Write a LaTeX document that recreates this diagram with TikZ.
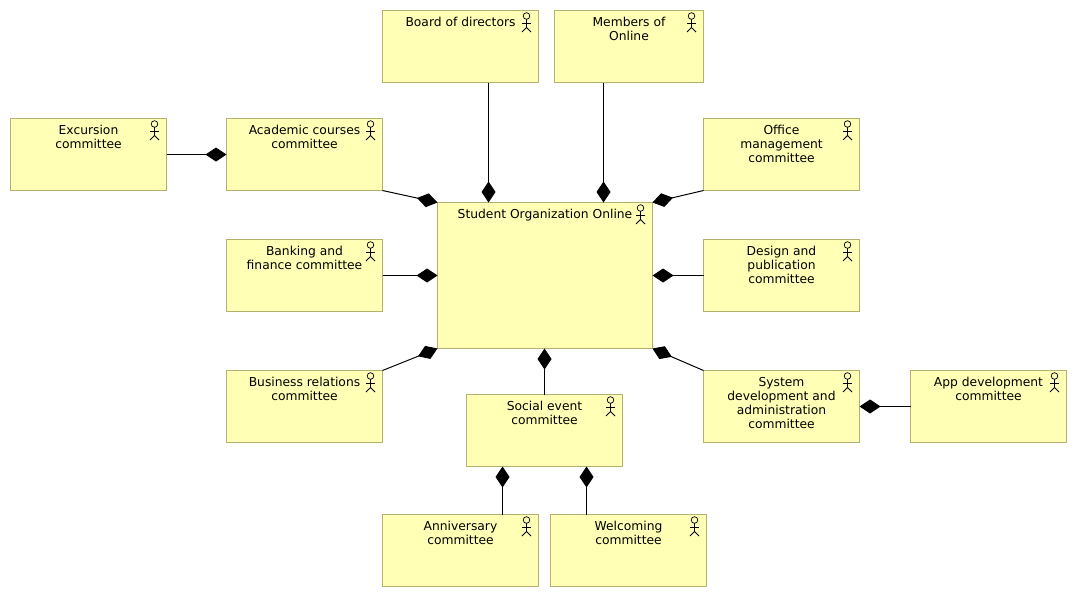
\documentclass[tikz,border=0pt]{standalone}
\usepackage{fontspec}
\setmainfont{DejaVu Sans}
\usetikzlibrary{arrows.meta}
\definecolor{boxfill}{HTML}{FFFFB5}
\definecolor{boxline}{HTML}{B2B26E}
\tikzset{
  x=1pt,y=-1pt,
  elembox/.style={draw=boxline,fill=boxfill,line width=1pt,rectangle,inner sep=0pt,outer sep=0pt,anchor=north west},
  elemtext/.style={anchor=north,align=center,inner sep=0pt,font=\fontsize{12.3pt}{14pt}\selectfont},
  actor/.style={draw=black,line width=0.75pt},
  comp/.style={draw=black,line width=1pt,-{Diamond[length=21pt,width=14pt,sep=0pt]}}
}
\newcommand{\elem}[6]{%
  \pgfmathsetmacro{\boxw}{#4-#2}\pgfmathsetmacro{\boxh}{#5-#3}%
  \node[elembox,minimum width=\boxw pt,minimum height=\boxh pt] (#1) at (#2+0.5,#3+0.5) {};
  \node[elemtext] (#1t) at ([yshift=-6.2pt]#1.north) {#6};
  \draw[actor] ([xshift=-12pt,yshift=-5.5pt]#1.north east) circle (3.3pt);
  \draw[actor] ([xshift=-12pt,yshift=-8.8pt]#1.north east) -- ([xshift=-12pt,yshift=-17pt]#1.north east);
  \draw[actor] ([xshift=-16.5pt,yshift=-13pt]#1.north east) -- ([xshift=-7.5pt,yshift=-13pt]#1.north east);
  \draw[actor] ([xshift=-16.5pt,yshift=-21.5pt]#1.north east) -- ([xshift=-12pt,yshift=-17pt]#1.north east) -- ([xshift=-7.5pt,yshift=-21.5pt]#1.north east);
}
\begin{document}
\begin{tikzpicture}
\useasboundingbox (0,0) rectangle (1077,597);
\elem{board}{382}{10}{538}{82}{Board of directors}
\elem{members}{554}{10}{703}{82}{Members of\\Online}
\elem{excursion}{10}{118}{166}{190}{Excursion\\committee}
\elem{academic}{226}{118}{382}{190}{Academic courses\\committee}
\elem{office}{703}{118}{859}{190}{Office\\management\\committee}
\elem{student}{437}{202}{652}{348}{Student Organization Online}
\elem{banking}{226}{239}{382}{311}{Banking and\\finance committee}
\elem{design}{703}{239}{859}{311}{Design and\\publication\\committee}
\elem{business}{226}{370}{382}{442}{Business relations\\committee}
\elem{social}{466}{394}{622}{466}{Social event\\committee}
\elem{system}{703}{370}{859}{442}{System\\development and\\administration\\committee}
\elem{app}{910}{370}{1066}{442}{App development\\committee}
\elem{anniversary}{382}{514}{538}{586}{Anniversary\\committee}
\elem{welcoming}{550}{514}{706}{586}{Welcoming\\committee}
\draw[comp] (excursion.east) -- (academic.west);
\draw[comp] (academic.south east) -- (student.north west);
\draw[comp] (office.south west) -- (student.north east);
\draw[comp] (banking.east) -- (banking.east -| student.west);
\draw[comp] (design.west) -- (design.west -| student.east);
\draw[comp] (business.north east) -- (student.south west);
\draw[comp] (system.north west) -- (student.south east);
\draw[comp] (social.north) -- (social.north |- student.south);
\draw[comp] ([xshift=-50pt]board.south east) -- ([xshift=-50pt]board.south east |- student.north);
\draw[comp] ([xshift=49pt]members.south west) -- ([xshift=49pt]members.south west |- student.north);
\draw[comp] ([xshift=-36pt]anniversary.north east) -- ([xshift=-36pt]anniversary.north east |- social.south);
\draw[comp] ([xshift=36pt]welcoming.north west) -- ([xshift=36pt]welcoming.north west |- social.south);
\draw[comp] (app.west) -- (system.east);
\end{tikzpicture}
\end{document}
